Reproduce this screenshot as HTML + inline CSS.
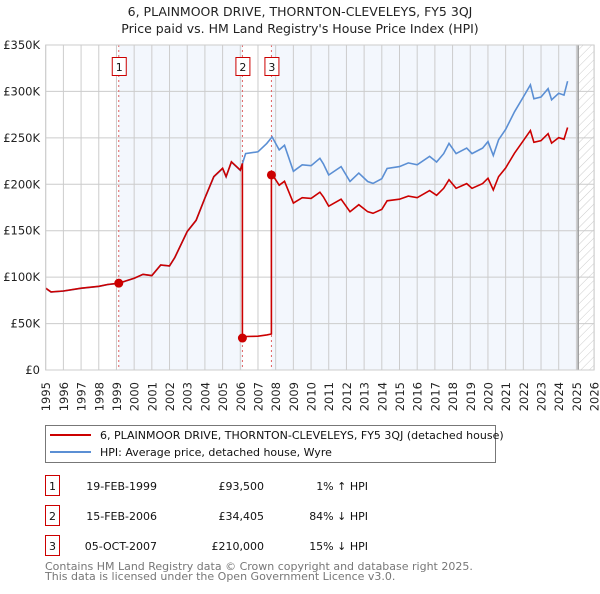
<!DOCTYPE html>
<html><head><meta charset="utf-8"><style>
body{margin:0;background:#fff;width:600px;height:590px;overflow:hidden;font-family:"DejaVu Sans","Liberation Sans",sans-serif;}
svg text{font-family:"DejaVu Sans","Liberation Sans",sans-serif;}
</style></head><body>
<svg id="chart" width="600" height="590" viewBox="0 0 600 590">
<defs><pattern id="hatch" width="6" height="6" patternUnits="userSpaceOnUse" patternTransform="rotate(45)"><line x1="0" y1="0" x2="0" y2="6" stroke="#ccc" stroke-width="1"/></pattern></defs>
<text x="300" y="16" text-anchor="middle" font-size="12.5" fill="#222">6, PLAINMOOR DRIVE, THORNTON-CLEVELEYS, FY5 3QJ</text>
<text x="300" y="33" text-anchor="middle" font-size="12.5" fill="#222">Price paid vs. HM Land Registry's House Price Index (HPI)</text>
<g id="plot"></g>
<g>
<rect x="45.5" y="425.5" width="450" height="37" fill="#fff" stroke="#777"/>
<line x1="50" y1="435" x2="91" y2="435" stroke="#cc0000" stroke-width="2"/>
<text x="100" y="439" font-size="11" fill="#111">6, PLAINMOOR DRIVE, THORNTON-CLEVELEYS, FY5 3QJ (detached house)</text>
<line x1="50" y1="452" x2="91" y2="452" stroke="#5b8fd4" stroke-width="2"/>
<text x="100" y="456" font-size="11" fill="#111">HPI: Average price, detached house, Wyre</text>
</g>
<g font-size="11" fill="#111">
<rect x="45.5" y="475.5" width="14" height="20" fill="none" stroke="#cc0000"/><text x="52.5" y="490" text-anchor="middle">1</text>
<text x="157" y="490" text-anchor="end">19-FEB-1999</text><text x="264" y="490" text-anchor="end">£93,500</text><text x="368" y="490" text-anchor="end">1% ↑ HPI</text>
<rect x="45.5" y="505.5" width="14" height="20" fill="none" stroke="#cc0000"/><text x="52.5" y="520" text-anchor="middle">2</text>
<text x="157" y="520" text-anchor="end">15-FEB-2006</text><text x="264" y="520" text-anchor="end">£34,405</text><text x="368" y="520" text-anchor="end">84% ↓ HPI</text>
<rect x="45.5" y="535.5" width="14" height="20" fill="none" stroke="#cc0000"/><text x="52.5" y="550" text-anchor="middle">3</text>
<text x="157" y="550" text-anchor="end">05-OCT-2007</text><text x="264" y="550" text-anchor="end">£210,000</text><text x="368" y="550" text-anchor="end">15% ↓ HPI</text>
</g>
<text x="45" y="570" font-size="11" fill="#777">Contains HM Land Registry data © Crown copyright and database right 2025.</text>
<text x="45" y="580" font-size="11" fill="#777">This data is licensed under the Open Government Licence v3.0.</text>
</svg>
<script>
const hpiYears=[1995,1995.3,1996,1997,1998,1998.5,1999.13,2000,2000.5,2001,2001.5,2002,2002.3,2003,2003.5,2004,2004.5,2005,2005.2,2005.5,2006,2006.3,2007,2007.5,2007.8,2008.2,2008.5,2009,2009.5,2010,2010.5,2010.7,2011,2011.7,2012.2,2012.7,2013.2,2013.5,2014,2014.3,2015,2015.5,2016,2016.7,2017.1,2017.5,2017.8,2018.2,2018.8,2019.1,2019.7,2020,2020.3,2020.6,2021,2021.5,2022,2022.4,2022.6,2023,2023.4,2023.6,2024,2024.3,2024.5];
const hpiValues=[88,84,85,88,90,92,93.4,98.7,103,101.5,113,112,121,149,161,185,208,217,208,224,215,233,235,244,251,237,242,214,221,220,228,222,210,219,203,212,203,201,206,217,219,223,221,230,224,233,244,233,239,233,239,246,231,248,259,278,294,307,292,294,303,291,298,296,311];
const saleYears=[1999.13,2006.12,2007.76];
const salePrices=[93.5,34.405,210];
const saleLabels=["1","2","3"];
const yTicks=[0,50,100,150,200,250,300,350];
const yTickLabels=["£0","£50K","£100K","£150K","£200K","£250K","£300K","£350K"];
const xTicks=[1995,1996,1997,1998,1999,2000,2001,2002,2003,2004,2005,2006,2007,2008,2009,2010,2011,2012,2013,2014,2015,2016,2017,2018,2019,2020,2021,2022,2023,2024,2025,2026];

const X0=45.7,PX=17.69,Y0=370,PY=46.43/50;
const xs=y=>X0+(y-1995)*PX, ys=v=>Y0-v*PY;
const NS="http://www.w3.org/2000/svg";
const g=document.getElementById('plot');
function mk(t,a){const e=document.createElementNS(NS,t);for(const k in a)e.setAttribute(k,a[k]);g.appendChild(e);return e;}
const dataEnd=2025.1;
let e=mk('rect',{x:xs(saleYears[0]),y:ys(350),width:xs(saleYears[1])-xs(saleYears[0]),height:ys(0)-ys(350),fill:'#eef3fc',opacity:0.7});


e=mk('rect',{x:xs(saleYears[2]),y:ys(350),width:xs(dataEnd)-xs(saleYears[2]),height:ys(0)-ys(350),fill:'#eef3fc',opacity:0.7});


e=mk('rect',{x:xs(dataEnd),y:ys(350),width:xs(2026)-xs(dataEnd),height:ys(0)-ys(350),fill:'url(#hatch)'});


yTicks.forEach((v,i)=>{
 let l=mk('line',{x1:xs(1995),x2:xs(2026),y1:ys(v),y2:ys(v),stroke:'#cccccc'});
 
 
 let t=mk('text',{x:40,y:ys(v)+4,'text-anchor':'end','font-size':11.5,fill:'#222'});t.textContent=yTickLabels[i];
 
 
});
xTicks.forEach(y=>{
 let l=mk('line',{x1:xs(y),x2:xs(y),y1:ys(350),y2:ys(0),stroke:'#cccccc'});
 
 
 let t=mk('text',{transform:'translate('+(xs(y)+4.5)+',382) rotate(-90)','text-anchor':'end','font-size':11.5,fill:'#222'});t.textContent=y;
 
 
});
e=mk('line',{x1:xs(dataEnd),x2:xs(dataEnd),y1:ys(350),y2:ys(0),stroke:'#999','stroke-width':1.5});


function hpiAt(y){for(let i=1;i<hpiYears.length;i++){if(y<=hpiYears[i]){const t=(y-hpiYears[i-1])/(hpiYears[i]-hpiYears[i-1]);return hpiValues[i-1]+t*(hpiValues[i]-hpiValues[i-1]);}}return hpiValues[hpiValues.length-1];}
saleYears.forEach((y,i)=>{
 let l=mk('line',{x1:xs(y),x2:xs(y),y1:ys(350),y2:ys(0),stroke:'#e06060','stroke-dasharray':'2,3','stroke-width':1});
 
 
 let r=mk('rect',{x:xs(y)-6.5,y:57.5,width:14,height:18,fill:'#fff',stroke:'#cc0000'});
 
 
 let t=mk('text',{x:xs(y)+0.5,y:71,'text-anchor':'middle','font-size':11,fill:'#111'});t.textContent=saleLabels[i];
 
 
});
let d=hpiYears.map((y,i)=>(i?'L':'M')+xs(y).toFixed(1)+','+ys(hpiValues[i]).toFixed(1)).join(' ');
e=mk('path',{d:d,fill:'none',stroke:'#5b8fd4','stroke-width':1.6});


let pts=[];
function seg(a,b,si){const ratio=salePrices[si]/hpiAt(saleYears[si]);const ys_=[a,...hpiYears.filter(y=>y>a&&y<b),b];ys_.forEach(y=>pts.push([y,hpiAt(y)*ratio]));}
seg(1995,saleYears[0],0);seg(saleYears[0],saleYears[1],0);
pts.push([saleYears[1],salePrices[1]]);seg(saleYears[1],saleYears[2],1);
pts.push([saleYears[2],salePrices[2]]);seg(saleYears[2],hpiYears[hpiYears.length-1],2);
d=pts.map((p,i)=>(i?'L':'M')+xs(p[0]).toFixed(1)+','+ys(p[1]).toFixed(1)).join(' ');
e=mk('path',{d:d,fill:'none',stroke:'#cc0000','stroke-width':1.6});


saleYears.forEach((y,i)=>{
 let c=mk('circle',{cx:xs(y),cy:ys(salePrices[i]),r:4.5,fill:'#cc0000'});
 
 
});
e=mk('rect',{x:xs(1995),y:ys(350),width:xs(2026)-xs(1995),height:ys(0)-ys(350),fill:'none',stroke:'#cccccc'});


</script>
</body></html>
